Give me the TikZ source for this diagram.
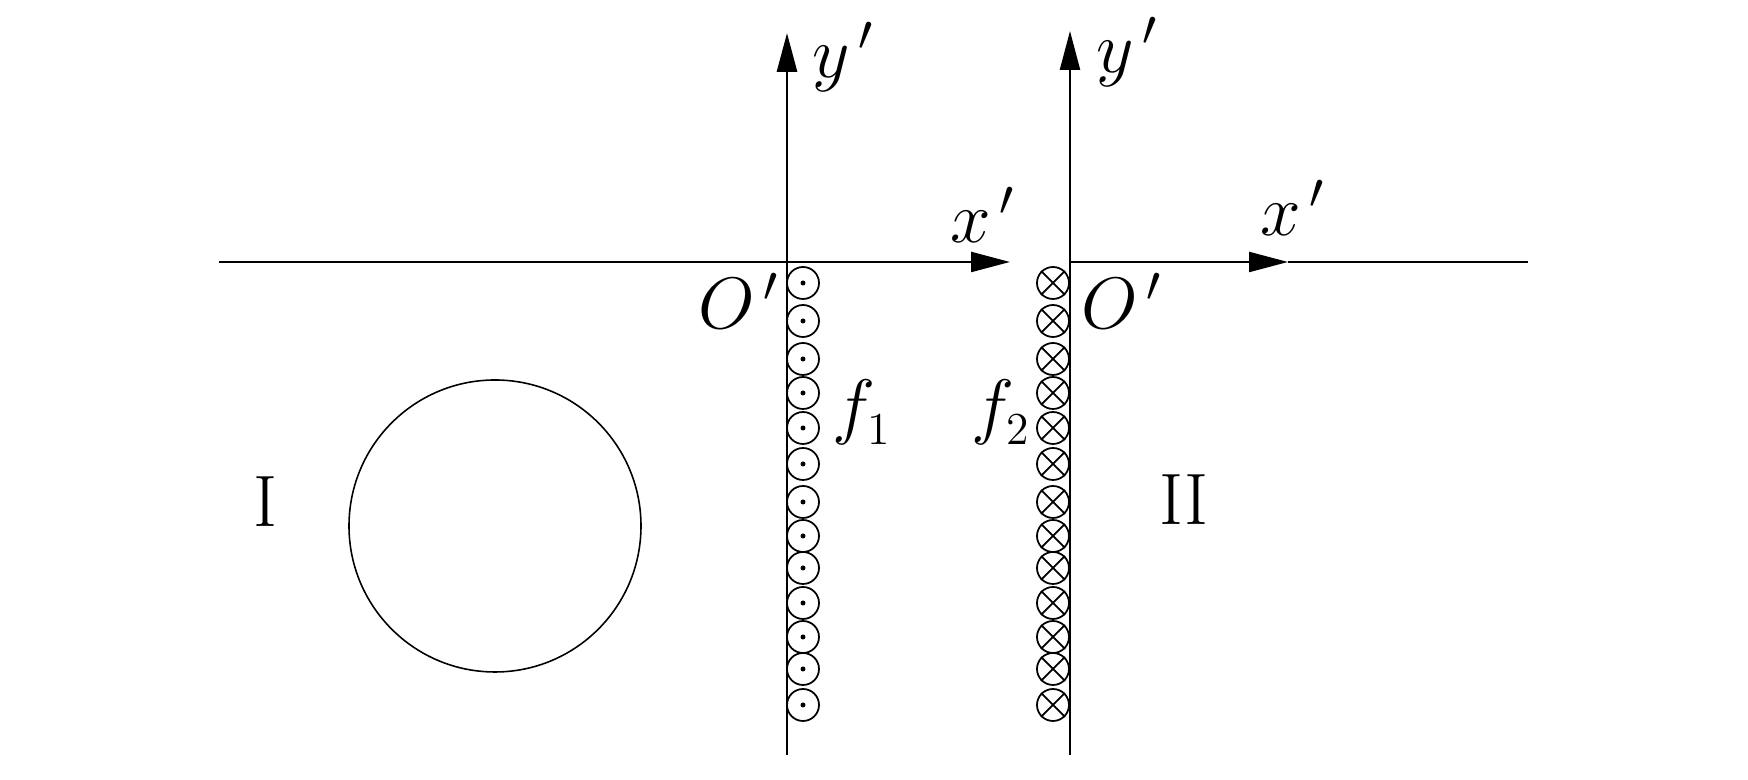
\documentclass[tikz,border=0pt]{standalone}
\usetikzlibrary{arrows.meta}
\newcommand{\wideprime}{^{\,\prime}}
\newcommand{\lowsub}[1]{_{\raisebox{-1pt}{\fontsize{13}{14}\selectfont #1}}}
\tikzset{
  axis/.style={line width=0.65pt,-{Triangle[length=0.39cm,width=0.2cm]}},
  plainline/.style={line width=0.65pt},
  coil/.style={circle,draw,line width=0.5pt,inner sep=0,minimum size=0.32cm},
  lab/.style={inner sep=0,font=\huge}
}
\begin{document}
\begin{tikzpicture}
  \useasboundingbox (0,0) rectangle (17.48,7.80);

  \coordinate (leftend) at (2.19,5.18);
  \coordinate (orgA) at (7.87,5.18);
  \coordinate (tipA) at (10.10,5.18);
  \coordinate (botA) at (7.87,0.25);
  \coordinate (topA) at (7.87,7.47);
  \coordinate (orgB) at (10.70,5.18);
  \coordinate (tipB) at (12.88,5.18);
  \coordinate (rightend) at (15.28,5.18);
  \coordinate (botB) at (10.70,0.25);
  \coordinate (topB) at (10.70,7.49);

  \draw[axis] (leftend) -- (tipA);
  \draw[axis,line width=0.85pt] (botA) -- (topA);
  \draw[axis] (orgB) -- (tipB);
  \draw[plainline] (tipB) -- (rightend);
  \draw[axis] (botB) -- (topB);

  \node[circle,draw,line width=0.45pt,inner sep=0,minimum size=2.92cm] (disc) at (4.95,2.54) {};

  \foreach \y [count=\i] in {4.97,4.59,4.21,3.87,3.52,3.16,2.78,2.44,2.12,1.77,1.43,1.11,0.75} {
    \node[coil] (dot\i) at (8.03,\y) {};
    \fill (dot\i) circle (0.025);
    \node[coil] (crs\i) at (10.53,\y) {};
    \draw[line width=0.5pt] (crs\i.45) -- (crs\i.225);
    \draw[line width=0.5pt] (crs\i.135) -- (crs\i.-45);
  }

  \node[lab] (yA) at (8.43,7.23) {$y\wideprime$};
  \node[lab] (yB) at (11.27,7.28) {$y\wideprime$};
  \node[lab] (xA) at (9.83,5.65) {$x\wideprime$};
  \node[lab] (xB) at (12.93,5.72) {$x\wideprime$};
  \node[lab] (oA) at (7.39,4.79) {$O\wideprime$};
  \node[lab] (oB) at (11.22,4.79) {$O\wideprime$};
  \node[lab] (fA) at (8.62,3.68) {$f\lowsub{1}$};
  \node[lab] (fB) at (10.01,3.68) {$f\lowsub{2}$};
  \node[lab] (regA) at (2.65,2.78) {I};
  \node[lab] (regB) at (11.84,2.80) {II};
\end{tikzpicture}
\end{document}
